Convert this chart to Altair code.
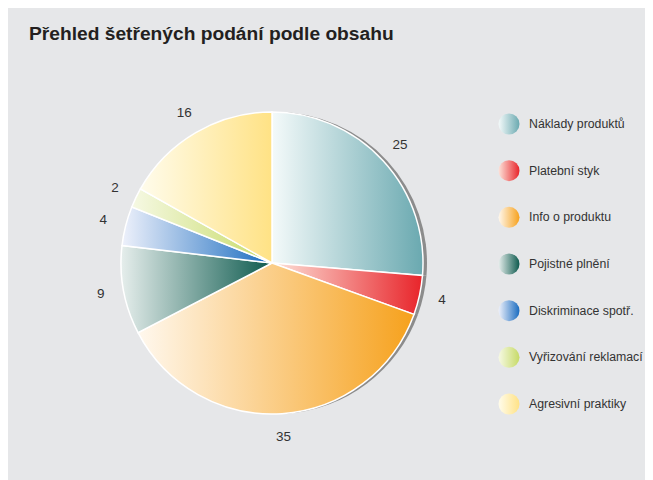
import altair as alt
import pandas as pd

categories = ["Náklady produktů", "Platební styk", "Info o produktu", "Pojistné plnění",
              "Diskriminace spotř.", "Vyřizování reklamací", "Agresivní praktiky"]
values = [25, 4, 35, 9, 4, 2, 16]
light_colors = ["#f4fafa", "#fde3da", "#fff8ee", "#e6eeec", "#eef1fb", "#f6f9e4", "#fffcec"]
dark_colors = ["#6aa9b0", "#e8242a", "#f6a11c", "#0d5a4e", "#1a6cc0", "#c6da66", "#ffe285"]

TITLE = "Přehled šetřených podání podle obsahu"
BG = "#e6e7e9"
FONT = "Liberation Sans, Arial, sans-serif"

df = pd.DataFrame({"cat": categories, "value": values, "idx": list(range(len(values)))})


def grad(c0, c1):
    return {"gradient": "linear", "x1": 0, "y1": 0, "x2": 1, "y2": 0,
            "stops": [{"offset": 0, "color": c0}, {"offset": 1, "color": c1}]}


fill_enc = {
    "condition": [
        {"test": f"datum.cat === '{c}'", "value": grad(l, d)}
        for c, l, d in zip(categories[:-1], light_colors[:-1], dark_colors[:-1])
    ],
    "value": grad(light_colors[-1], dark_colors[-1]),
}

CX, CY = 264, 201
R = 151

base = alt.Chart(df)

shadow = base.mark_arc(radius=R, fill="#8c8c8c", stroke=None).encode(
    theta=alt.Theta("value:Q", stack=True),
    order=alt.Order("idx:Q"),
    x=alt.value(CX + 4), y=alt.value(CY),
)

pie = base.mark_arc(radius=R, stroke="white", strokeWidth=1.5).encode(
    theta=alt.Theta("value:Q", stack=True),
    order=alt.Order("idx:Q"),
    fill=fill_enc,
    x=alt.value(CX), y=alt.value(CY),
)

labels = base.mark_text(radius=174, fontSize=13.5, color="#333333", font=FONT).encode(
    theta=alt.Theta("value:Q", stack=True),
    order=alt.Order("idx:Q"),
    text=alt.Text("value:Q"),
    x=alt.value(CX), y=alt.value(CY),
)

leg_y = alt.Y("cat:N", sort=categories, axis=None,
              scale=alt.Scale(type="point", range=[62, 342], padding=0))

leg_sym = base.mark_point(filled=True, shape="circle", size=441, opacity=1).encode(
    y=leg_y, x=alt.value(501), fill=fill_enc,
)

leg_txt = base.mark_text(align="left", baseline="middle", fontSize=12.3, color="#333333",
                         font=FONT).encode(
    y=leg_y, x=alt.value(521), text="cat:N",
)

chart = alt.layer(shadow, pie, labels, leg_sym, leg_txt).properties(
    width=637, height=418,
    autosize=alt.AutoSizeParams(type="none"),
    padding={"left": 0, "top": 54, "right": 0, "bottom": 0},
    background=BG,
    title=alt.TitleParams(TITLE, anchor="start", dx=21, fontSize=19.2, fontWeight="bold",
                          font=FONT, color="#231f20", offset=18),
).configure_view(stroke=None)

chart.save("out.html", embed_options={"renderer": "svg", "actions": False})
